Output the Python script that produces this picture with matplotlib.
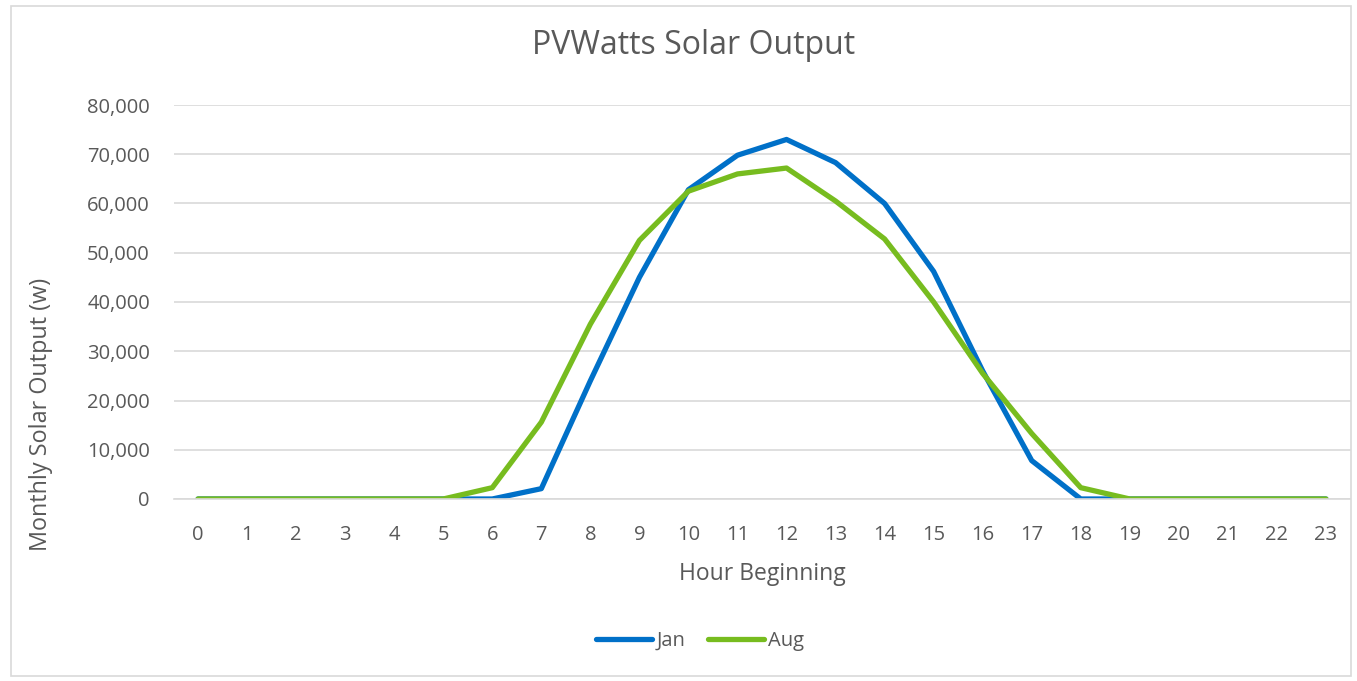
import matplotlib
matplotlib.use("Agg")
import matplotlib.pyplot as plt
from matplotlib.patches import Rectangle
from matplotlib.ticker import FuncFormatter, MultipleLocator

hours = list(range(24))
jan = [0, 0, 0, 0, 0, 0, 0, 2100, 24000, 45000, 62800, 69800, 73000, 68300, 60000,
       46200, 26000, 7800, 0, 0, 0, 0, 0, 0]
aug = [0, 0, 0, 0, 0, 0, 2300, 15600, 35500, 52500, 62500, 66000, 67200, 60500, 52800,
       40000, 25500, 13300, 2300, 0, 0, 0, 0, 0]
series_names = ["Jan", "Aug"]
colors = ["#0070C8", "#77BC1F"]

plt.rcParams['font.family'] = ['Open Sans', 'DejaVu Sans']
txt = "#595959"

W, H = 1357, 681
fig = plt.figure(figsize=(W / 100, H / 100), dpi=100)
fig.patches.append(Rectangle((11 / W, 1 - 676 / H), (1351 - 11) / W, (676 - 6) / H,
                             transform=fig.transFigure, fill=False,
                             edgecolor="#d9d9d9", linewidth=1.2))

ax = fig.add_axes([173.5 / W, 1 - 499 / H, (1350.5 - 173.5) / W, (499 - 105) / H])
for vals, name, c in zip([jan, aug], series_names, colors):
    ax.plot(hours, vals, color=c, linewidth=3.8, label=name, solid_capstyle='round',
            solid_joinstyle='round')

ax.set_xlim(-0.5, 23.5)
ax.set_ylim(0, 80000)
ax.set_xticks(hours)
ax.yaxis.set_major_locator(MultipleLocator(10000))
ax.yaxis.set_major_formatter(FuncFormatter(lambda v, p: f"{int(v):,}"))
ax.grid(axis='y', color="#d9d9d9", linewidth=1.2)
ax.set_axisbelow(True)
for s in ['top', 'right', 'left']:
    ax.spines[s].set_visible(False)
ax.spines['bottom'].set_color("#d9d9d9")
ax.spines['bottom'].set_linewidth(1.2)
ax.tick_params(axis='both', length=0, labelsize=14.5, labelcolor=txt)
ax.tick_params(axis='y', pad=17)
ax.tick_params(axis='x', pad=19)

ax.set_xlabel("Hour Beginning", fontsize=16.5, color=txt, labelpad=12)
ax.set_ylabel("Monthly Solar Output (w)", fontsize=16.8, color=txt)
ax.yaxis.set_label_coords(53 / W, 1 - 414 / H, transform=fig.transFigure)
fig.text(694 / W, 1 - 46 / H, "PVWatts Solar Output", ha='center', va='center',
         fontsize=23, color=txt)

leg = ax.legend(loc='center', bbox_to_anchor=(700 / W, 1 - 641 / H),
                bbox_transform=fig.transFigure, ncol=2, frameon=False,
                fontsize=14.5, labelcolor=txt, handlelength=2.8, handletextpad=0.2,
                columnspacing=1.1)

fig.savefig("out.png", dpi=100, facecolor="white")
